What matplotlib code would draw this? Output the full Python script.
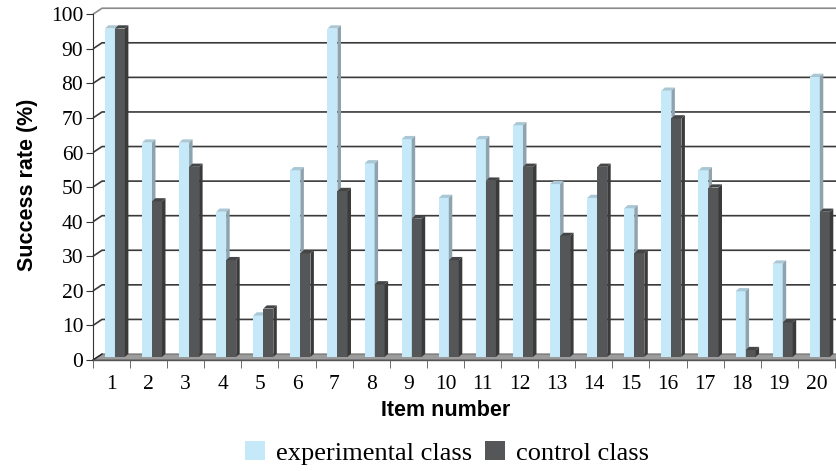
import matplotlib.pyplot as plt
from matplotlib.patches import Polygon, Rectangle, Patch

# success rate per test item
items = list(range(1, 21))
experimental = [95, 62, 62, 42, 12, 54, 95, 56, 63, 46, 63, 67, 50, 46, 43, 77, 54, 19, 27, 81]
control = [95, 45, 55, 28, 14, 30, 48, 21, 40, 28, 51, 55, 35, 55, 30, 69, 49, 2, 10, 42]
series_names = ["experimental class", "control class"]
yticks = list(range(0, 101, 10))

serif = "Liberation Serif"
sans = "Liberation Sans"

# fake 3d geometry (in data units)
BDX, BDY = 0.243, 1.735     # back wall offset
BASE = 0.87                  # bars stand mid-depth on the floor
DX, DY = 0.094, 0.93         # bar depth
W = 0.27

light = ("#c6e9f9", "#a9c7d4", "#8ea3ae")   # front, top, side
dark = ("#555658", "#444546", "#3a3a3b")

fig = plt.figure(figsize=(8.37, 4.71), dpi=100)
ax = fig.add_axes([93 / 837, 111 / 471, 742 / 837, 352 / 471])
ax.set_xlim(0.5, 20.5)
ax.set_ylim(0, 101.8)
ax.patch.set_visible(False)

x0, x1 = 0.5, 20.5
# floor
ax.add_patch(Polygon([(x0, 0), (x1, 0), (x1 + BDX, BDY), (x0 + BDX, BDY)],
                     closed=True, facecolor="#9c9c9c", edgecolor="#6a6a6a",
                     lw=0.8, clip_on=False, zorder=1))

# gridlines running along the left wall and the back wall
for v in yticks:
    col = "#8a8a8a" if v == 100 else "#3a3a3a"
    if v > 0:
        ax.plot([x0, x0 + BDX, x1 + 1], [v, v + BDY, v + BDY], color=col,
                lw=1.2, clip_on=False, zorder=1, solid_capstyle="butt")
    else:
        ax.plot([x0, x0 + BDX], [0, BDY], color="#222222", lw=1.0,
                clip_on=False, zorder=2)


def bar3d(left, val, cols):
    front, top, side = cols
    b, t = BASE, BASE + val
    ax.add_patch(Rectangle((left, b), W, val, facecolor=front, edgecolor="none", zorder=3))
    ax.add_patch(Polygon([(left, t), (left + W, t), (left + W + DX, t + DY), (left + DX, t + DY)],
                         closed=True, facecolor=top, edgecolor="none", zorder=3))
    ax.add_patch(Polygon([(left + W, b), (left + W + DX, b + DY), (left + W + DX, t + DY), (left + W, t)],
                         closed=True, facecolor=side, edgecolor="none", zorder=3))


for i, e, c in zip(items, experimental, control):
    bar3d(i - 0.18, e, light)
    bar3d(i + 0.09, c, dark)

# axes
for s in ["top", "right"]:
    ax.spines[s].set_visible(False)
ax.spines["left"].set_bounds(0, 100)
ax.spines["left"].set_color("#333333")
ax.spines["bottom"].set_color("#555555")
ax.spines["bottom"].set_linewidth(1.0)
ax.spines["left"].set_zorder(4)
ax.spines["bottom"].set_zorder(4)

ax.set_yticks(yticks)
ax.set_yticklabels([str(v) for v in yticks], fontfamily=serif, fontsize=15.5)
ax.tick_params(axis="y", direction="out", length=5, color="#333333", pad=2)

ax.set_xticks(items)
ax.set_xticklabels([str(i) for i in items], fontfamily=serif, fontsize=15.5)
ax.set_xticks([i + 0.5 for i in range(0, 21)], minor=True)
ax.tick_params(axis="x", which="major", length=0, pad=11)
ax.tick_params(axis="x", which="minor", direction="out", length=6, color="#555555")

fig.text(28 / 837, 1 - 185 / 471, "Success rate (%)", rotation=90, ha="center", va="center",
         fontfamily=sans, fontweight="bold", fontsize=15.5)
fig.text(446 / 837, 1 - 411 / 471, "Item number", ha="center", va="center",
         fontfamily=sans, fontweight="bold", fontsize=15.5)

handles = [Patch(facecolor=light[0], edgecolor="none"), Patch(facecolor=dark[0], edgecolor="none")]
fig.legend(handles, series_names, loc="center", bbox_to_anchor=(447 / 837, 1 - 453 / 471),
           ncol=2, frameon=False, prop={"family": serif, "size": 19},
           handlelength=0.75, handleheight=0.75, handletextpad=0.4, columnspacing=0.5)

fig.savefig("out.png", dpi=100)
